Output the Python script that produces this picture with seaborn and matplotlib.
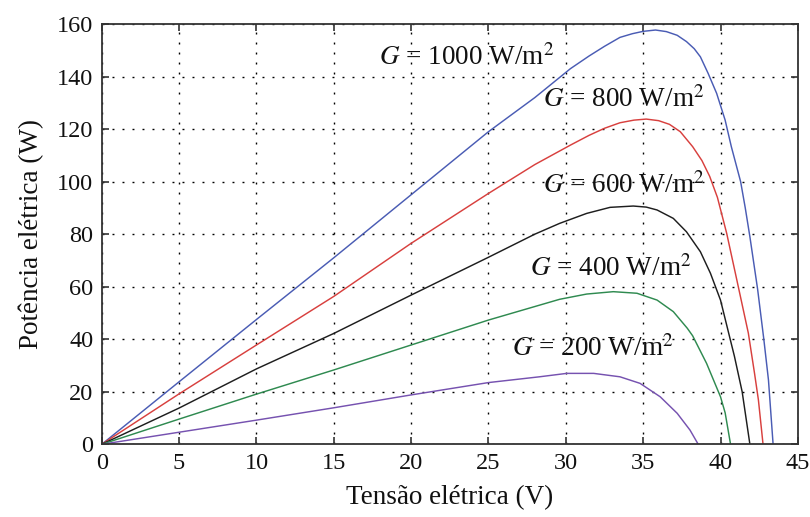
import matplotlib
matplotlib.use("Agg")
import matplotlib.pyplot as plt
import seaborn as sns
import pandas as pd

# Data (V in volts, P in watts)
v_1000 = [0, 5, 10, 15, 20, 25, 28, 30.3, 31.5, 32.5, 33.5, 34.3, 35, 35.8, 36.5, 37.2, 37.8, 38.3,
          38.7, 39.2, 39.75, 40.3, 40.7, 41.3, 41.6, 41.9, 42.4, 42.8, 43.1, 43.4]
p_1000 = [0, 23.8, 47.5, 71, 95, 119, 132, 143, 147.8, 151.5, 154.9, 156.3, 157.2, 157.7, 157.1, 155.7,
          153.3, 150.6, 147.5, 141.2, 133.6, 123.4, 113.3, 100, 90, 79, 59, 40, 24.5, 0]

v_800 = [0, 5, 10, 15, 20, 25, 28, 30.3, 31.5, 32.5, 33.5, 34.4, 35.2, 36, 36.7, 37.4, 38.2, 38.8,
         39.3, 39.8, 40.4, 41.15, 41.8, 42.2, 42.45, 42.75]
p_800 = [0, 19.2, 37.8, 56.3, 76.5, 95.5, 106.5, 113.9, 117.6, 120.3, 122.4, 123.4, 123.8, 123.2,
         121.8, 119, 113.3, 108, 102, 94, 80.3, 60, 42.3, 27, 16.9, 0]

v_600 = [0, 5, 10, 15, 20, 25, 28, 29.6, 31.35, 32.86, 34.36, 35.2, 35.9, 36.95, 37.8, 38.7, 39.35,
         40, 40.5, 40.9, 41.4, 41.9]
p_600 = [0, 13.8, 28.7, 42.2, 56.8, 71.2, 80, 84.1, 87.9, 90.2, 90.7, 90.3, 89.2, 86, 80.9, 73.3, 65.1,
         54.9, 43, 33.5, 20, 0]

v_400 = [0, 5, 10, 15, 20, 25, 29.6, 31.35, 33.07, 34.6, 35.9, 36.95, 37.85, 38.2, 39.1, 40, 40.3, 40.65]
p_400 = [0, 9.6, 19.1, 28.3, 37.8, 47.3, 55.2, 57.2, 58.1, 57.5, 54.9, 50.5, 44.2, 41.3, 30.8, 18.1, 12, 0]

v_200 = [0, 5, 10, 15, 20, 25, 28.3, 30.06, 31.8, 33.5, 34.8, 36.1, 37.2, 38.03, 38.56]
p_200 = [0, 4.6, 9.2, 13.9, 18.8, 23.5, 25.7, 27, 27, 25.7, 23.2, 18.1, 11.8, 5.4, 0]

labels = ["1000", "800", "600", "400", "200"]
label_pos = [(17.9, 144.4), (28.5, 128.4), (28.5, 95.8), (27.7, 64.0), (26.5, 33.6)]
colors = ["#4a5cb4", "#d8403e", "#1e1e1e", "#2f8a50", "#7652b0"]

x_ticks = [0, 5, 10, 15, 20, 25, 30, 35, 40, 45]
y_ticks = [0, 20, 40, 60, 80, 100, 120, 140, 160]

sns.set_style("ticks")
plt.rcParams["font.family"] = ["Liberation Serif", "DejaVu Serif"]
plt.rcParams["mathtext.fontset"] = "stix"

fig = plt.figure(figsize=(8.1, 5.17), dpi=100)
ax = fig.add_axes([0.1256, 0.1406, 0.8594, 0.813])

series = [(v_1000, p_1000), (v_800, p_800), (v_600, p_600), (v_400, p_400), (v_200, p_200)]
for (v, p), c in zip(series, colors):
    df = pd.DataFrame({"V": v, "P": p})
    sns.lineplot(data=df, x="V", y="P", ax=ax, color=c, linewidth=1.05,
                 sort=False, estimator=None)

for lab, (x, y) in zip(labels, label_pos):
    ax.text(x, y, r"$G$ = " + lab + r" W/m$^2$", fontsize=19.5, ha="left", va="baseline",
            color="#111111")

ax.set_xlim(0, 45)
ax.set_ylim(0, 160)
ax.set_xticks(x_ticks)
ax.set_yticks(y_ticks)
ax.tick_params(direction="in", length=5, width=1.2, top=True, right=True,
               labelsize=17.5, colors="#333333", labelcolor="#111111", pad=6)
ax.grid(True, color="black", linestyle=(0, (1.4, 5.8)), linewidth=1.0)
for s in ax.spines.values():
    s.set_color("#333333")
    s.set_linewidth(1.3)
ax.set_xlabel("Tensão elétrica (V)", fontsize=19.5, color="#111111", labelpad=8)
ax.set_ylabel("Potência elétrica (W)", fontsize=19.5, color="#111111", labelpad=9)

fig.savefig("out.png", dpi=100)
